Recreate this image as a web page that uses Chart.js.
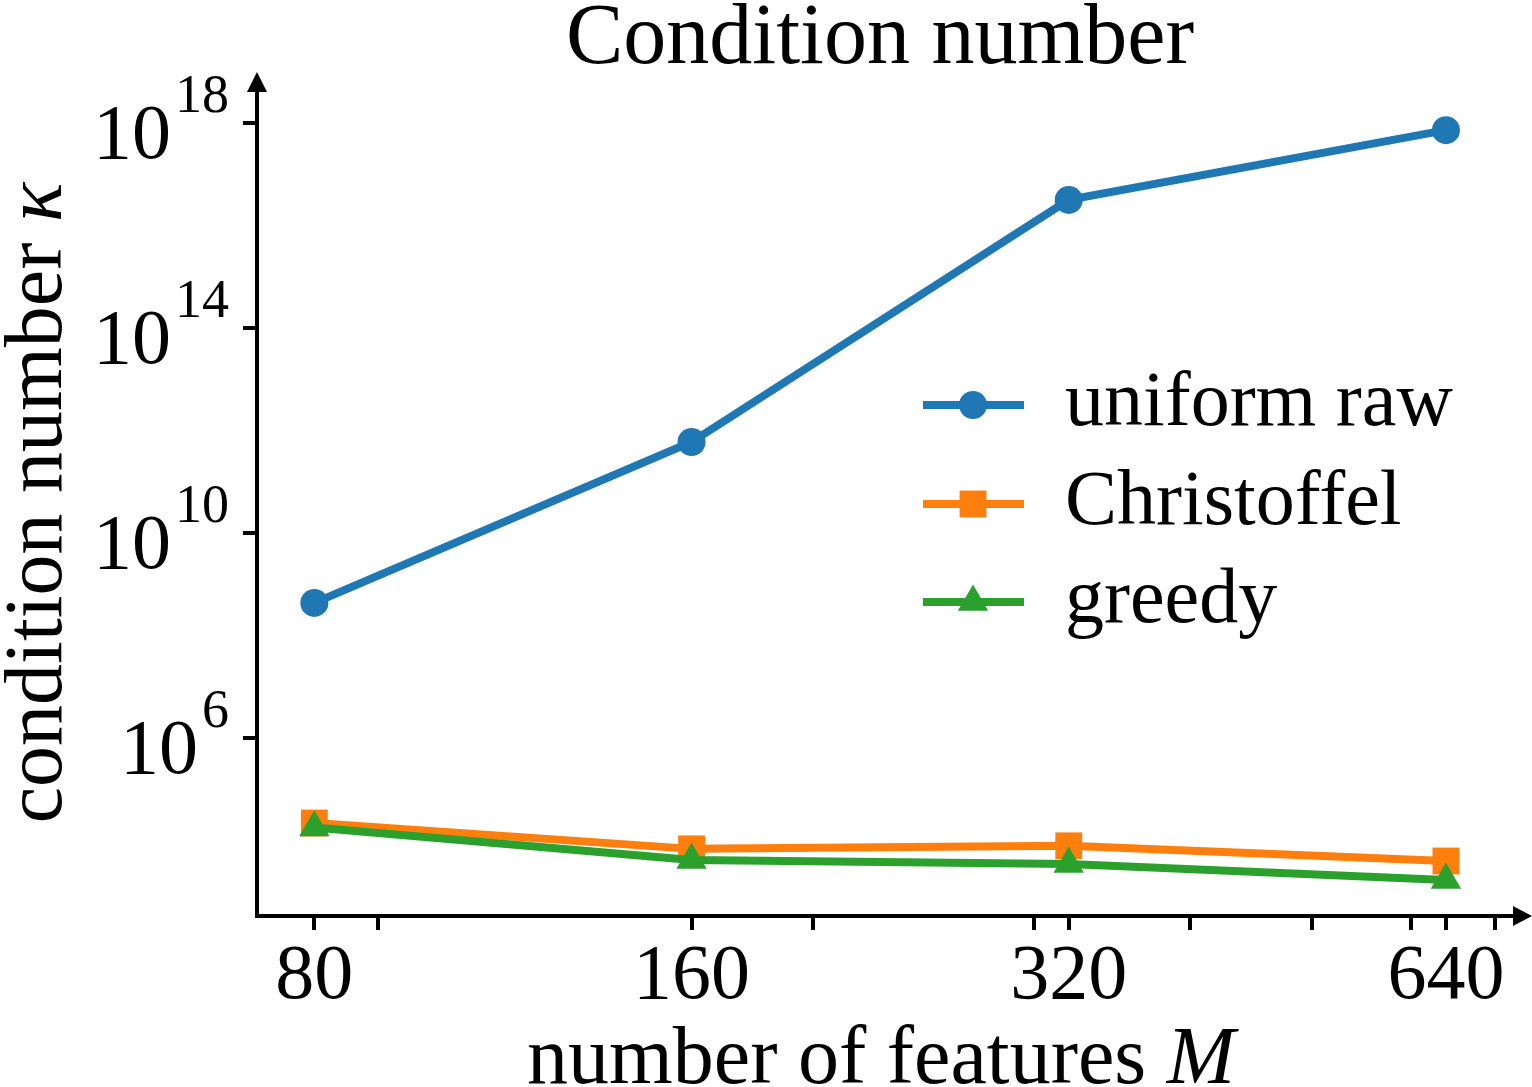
<!DOCTYPE html>
<html>
<head>
<meta charset="utf-8">
<script src="https://cdn.jsdelivr.net/npm/chart.js@4/dist/chart.umd.min.js"></script>
<style>
html,body{margin:0;padding:0;background:#fff;}
#wrap{width:1532px;height:1087px;}
</style>
</head>
<body>
<div id="wrap"><canvas id="c" width="1532" height="1087"></canvas></div>
<script>
// ---- data ----
const categories = [80, 160, 320, 640];
const uniformRaw = [4.3e8, 5.9e11, 3.1e16, 7.1e17];
const christoffel = [2.2e4, 6.9e3, 7.9e3, 4.0e3];
const greedy = [1.8e4, 4.2e3, 3.5e3, 1.7e3];
const seriesNames = ['uniform raw', 'Christoffel', 'greedy'];
const xTickLabels = [80, 160, 320, 640];
const xMinorTicks = [90, 200, 300, 400, 500, 600, 700];
const yTickExponents = [6, 10, 14, 18];
const titleText = 'Condition number';
const xTitle = 'number of features ';
const xTitleItalic = 'M';
const yTitle = 'condition number ';
const yTitleItalic = 'κ';

const colors = ['#1f77b4', '#ff7f0e', '#2ca02c'];
const styles = ['circle', 'rect', 'triangle'];
const radii = [14, 19, 17.5];
const SERIF = '"Liberation Serif", "Times New Roman", serif';

function pts(arr) { return categories.map((x, i) => ({x: x, y: arr[i]})); }

function drawMarker(ctx, style, x, y, r) {
  ctx.beginPath();
  if (style === 'circle') {
    ctx.arc(x, y, r, 0, Math.PI * 2);
  } else if (style === 'rect') {
    const s = r * Math.SQRT1_2;
    ctx.rect(x - s, y - s, 2 * s, 2 * s);
  } else {
    ctx.moveTo(x, y - r);
    ctx.lineTo(x + r * Math.sin(2 * Math.PI / 3), y - r * Math.cos(2 * Math.PI / 3));
    ctx.lineTo(x + r * Math.sin(4 * Math.PI / 3), y - r * Math.cos(4 * Math.PI / 3));
    ctx.closePath();
  }
  ctx.fill();
}

const decor = {
  id: 'decor',
  afterDraw(chart) {
    const ctx = chart.ctx;
    const xs = chart.scales.x, ys = chart.scales.y;
    const a = chart.chartArea;
    ctx.save();
    ctx.fillStyle = '#000';
    ctx.strokeStyle = '#000';
    ctx.lineWidth = 4;
    ctx.lineCap = 'butt';
    // y ticks
    yTickExponents.forEach(e => {
      const py = Math.round(ys.getPixelForValue(Math.pow(10, e)));
      ctx.beginPath(); ctx.moveTo(a.left - 14, py); ctx.lineTo(a.left, py); ctx.stroke();
    });
    // x ticks (major + minor)
    xTickLabels.concat(xMinorTicks).forEach(v => {
      const px = Math.round(xs.getPixelForValue(v));
      ctx.beginPath(); ctx.moveTo(px, a.bottom); ctx.lineTo(px, a.bottom + 14); ctx.stroke();
    });
    // arrows
    ctx.beginPath();
    ctx.moveTo(a.left, a.top - 10); ctx.lineTo(a.left + 10, a.top + 10); ctx.lineTo(a.left - 10, a.top + 10); ctx.closePath(); ctx.fill();
    ctx.beginPath();
    ctx.moveTo(a.right + 10, a.bottom); ctx.lineTo(a.right - 9, a.bottom - 10); ctx.lineTo(a.right - 9, a.bottom + 10); ctx.closePath(); ctx.fill();

    // x tick labels
    ctx.font = '78px ' + SERIF;
    ctx.textAlign = 'center';
    ctx.textBaseline = 'alphabetic';
    xTickLabels.forEach(v => {
      ctx.fillText(String(v), xs.getPixelForValue(v), 998);
    });
    // y tick labels 10^e
    yTickExponents.forEach(e => {
      const py = ys.getPixelForValue(Math.pow(10, e));
      ctx.font = '54px ' + SERIF;
      ctx.textAlign = 'right';
      const w = ctx.measureText(String(e)).width;
      ctx.fillText(String(e), 229, py - 11);
      ctx.font = '78px ' + SERIF;
      ctx.fillText('10', 229 - w - 4, py + 35);
    });
    // title
    ctx.font = '86px ' + SERIF;
    ctx.textAlign = 'center';
    ctx.fillText(titleText, 880, 63);
    // x title
    ctx.font = '82px ' + SERIF;
    ctx.textAlign = 'left';
    let w1 = ctx.measureText(xTitle).width;
    ctx.font = 'italic 82px ' + SERIF;
    let w2 = ctx.measureText(xTitleItalic).width;
    let sx = 881 - (w1 + w2) / 2;
    ctx.font = '82px ' + SERIF;
    ctx.fillText(xTitle, sx, 1083);
    ctx.font = 'italic 82px ' + SERIF;
    ctx.fillText(xTitleItalic, sx + w1, 1083);
    // y title
    ctx.save();
    ctx.translate(61, 503);
    ctx.rotate(-Math.PI / 2);
    ctx.font = '82px ' + SERIF;
    w1 = ctx.measureText(yTitle).width;
    ctx.font = 'italic 82px ' + SERIF;
    w2 = ctx.measureText(yTitleItalic).width;
    sx = -(w1 + w2) / 2;
    ctx.font = '82px ' + SERIF;
    ctx.fillText(yTitle, sx, 0);
    ctx.font = 'italic 82px ' + SERIF;
    ctx.fillText(yTitleItalic, sx + w1, 0);
    ctx.restore();

    // legend
    const rows = [405, 504, 602];
    seriesNames.forEach((name, i) => {
      const ry = rows[i];
      ctx.strokeStyle = colors[i];
      ctx.fillStyle = colors[i];
      ctx.lineWidth = 8;
      ctx.beginPath(); ctx.moveTo(923, ry); ctx.lineTo(1024, ry); ctx.stroke();
      drawMarker(ctx, styles[i], 973, ry, radii[i]);
      ctx.fillStyle = '#000';
      ctx.font = '78px ' + SERIF;
      ctx.textAlign = 'left';
      ctx.fillText(name, 1065, ry + 20);
    });
    ctx.restore();
  }
};

const datasetsRaw = [uniformRaw, christoffel, greedy];
const chart = new Chart(document.getElementById('c'), {
  type: 'line',
  data: {
    datasets: datasetsRaw.map((arr, i) => ({
      label: seriesNames[i],
      data: pts(arr),
      borderColor: colors[i],
      backgroundColor: colors[i],
      pointBackgroundColor: colors[i],
      pointBorderWidth: 0,
      borderWidth: 8,
      pointStyle: styles[i],
      pointRadius: radii[i],
      pointHoverRadius: radii[i],
      tension: 0,
      fill: false,
      clip: false,
      order: 3 - i
    }))
  },
  options: {
    responsive: false,
    animation: false,
    events: [],
    layout: {autoPadding: false, padding: {left: 0, right: 10, top: 82, bottom: 0}},
    plugins: {legend: {display: false}, tooltip: {enabled: false}, title: {display: false}},
    scales: {
      x: {
        type: 'logarithmic',
        min: 72, max: 736,
        afterBuildTicks: s => { s.ticks = xTickLabels.map(v => ({value: v})); },
        afterFit: s => { s.height = 171; },
        ticks: {display: false},
        grid: {display: false},
        border: {display: true, color: '#000', width: 4}
      },
      y: {
        type: 'logarithmic',
        min: Math.pow(10, 2.53), max: Math.pow(10, 18.79),
        afterBuildTicks: s => { s.ticks = yTickExponents.map(e => ({value: Math.pow(10, e)})); },
        afterFit: s => { s.width = 257; },
        ticks: {display: false},
        grid: {display: false},
        border: {display: true, color: '#000', width: 4}
      }
    }
  },
  plugins: [decor]
});
</script>
</body>
</html>
